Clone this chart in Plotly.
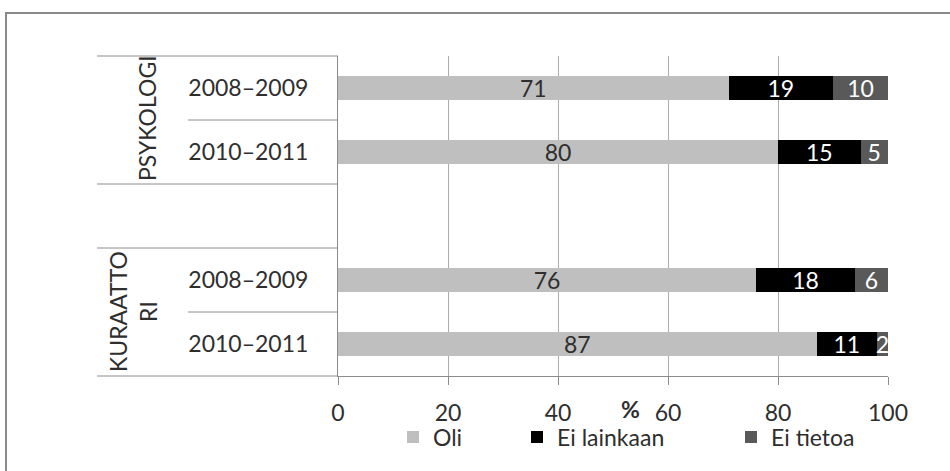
import plotly.graph_objects as go

# ---- data ----
groups = ["PSYKOLOGI", "PSYKOLOGI", "KURAATTORI", "KURAATTORI"]
group_labels = {"PSYKOLOGI": "PSYKOLOGI", "KURAATTORI": "KURAATTO<br>RI"}
periods = ["2008–2009", "2010–2011", "2008–2009", "2010–2011"]
series_names = ["Oli", "Ei lainkaan", "Ei tietoa"]
oli = [71, 80, 76, 87]
ei_lainkaan = [19, 15, 18, 11]
ei_tietoa = [10, 5, 6, 2]
x_ticks = [0, 20, 40, 60, 80, 100]
x_title = "%"

# ---- layout geometry ----
W, H = 950, 471
ML, MR, MT, MB = 338, 62, 56, 95
PW, PH = W - ML - MR, H - MT - MB


def px_x(px):
    return (px - ML) / PW


def px_y(py):
    return (H - MB - py) / PH


FONT = "Lato, 'Open Sans', sans-serif"
TXT = "#2e2e2e"
LINE = "#8c8c8c"
GRID = "#ababab"

keys = [f"{g} {p}" for g, p in zip(groups, periods)]
spacer = " "
cat_order = keys[:2] + [spacer] + keys[2:]
n_cat = len(cat_order)
tick_text = periods[:2] + [""] + periods[2:]

colors = ["#bfbfbf", "#000000", "#595959"]
text_colors = ["#2e2e2e", "#ffffff", "#ffffff"]
values = [oli, ei_lainkaan, ei_tietoa]
legend_ids = ["legend", "legend2", "legend3"]

fig = go.Figure()
for name, vals, col, tcol, lid in zip(series_names, values, colors, text_colors, legend_ids):
    fig.add_trace(go.Bar(
        y=keys, x=vals, name=name, orientation="h",
        marker=dict(color=col, line=dict(width=0)),
        width=0.39,
        text=[str(v) for v in vals], textposition="inside", textangle=0,
        insidetextanchor="middle", constraintext="none",
        textfont=dict(family=FONT, size=23, color=tcol),
        legend=lid, hoverinfo="x+name",
    ))


def cat_paper(boundary):
    # boundary in category units (-0.5 .. n_cat-0.5), reversed axis
    return 1 - (boundary + 0.5) / n_cat


shapes = []
# outer chart border
shapes.append(dict(type="rect", xref="paper", yref="paper",
                   x0=px_x(6), x1=1.3, y0=-0.6, y1=px_y(13),
                   line=dict(color="#8a8a8a", width=2), fillcolor="rgba(0,0,0,0)", layer="below"))
# label table lines
outer_left = px_x(97)
inner_left = px_x(188)
boundaries = [(-0.5, outer_left), (0.5, inner_left), (1.5, outer_left),
              (2.5, outer_left), (3.5, inner_left), (4.5, outer_left)]
for b, x0 in boundaries:
    shapes.append(dict(type="line", xref="paper", yref="paper",
                       x0=x0, x1=0, y0=cat_paper(b), y1=cat_paper(b),
                       line=dict(color=LINE, width=1)))

annotations = []
# group labels
annotations.append(dict(xref="paper", yref="paper", x=px_x(147), y=cat_paper(0.5) + 2 / PH,
                        xanchor="center", yanchor="middle",
                        text=group_labels["PSYKOLOGI"], textangle=-90, showarrow=False,
                        font=dict(family=FONT, size=23, color=TXT)))
annotations.append(dict(xref="paper", yref="paper", x=px_x(133), y=cat_paper(3.5),
                        xanchor="center", yanchor="middle",
                        text=group_labels["KURAATTORI"], textangle=-90, showarrow=False,
                        font=dict(family=FONT, size=23, color=TXT)))
# axis title
annotations.append(dict(xref="paper", yref="paper", x=px_x(630), y=px_y(409),
                        xanchor="center", yanchor="middle",
                        text=f"<b>{x_title}</b>", showarrow=False,
                        font=dict(family=FONT, size=23, color=TXT)))

leg_common = dict(orientation="h", xanchor="left", yanchor="middle", y=px_y(437),
                  font=dict(family=FONT, size=23, color=TXT), bgcolor="rgba(0,0,0,0)",
                  borderwidth=0, itemwidth=30)

fig.update_layout(
    width=W, height=H,
    margin=dict(l=ML, r=MR, t=MT, b=MB, pad=0),
    paper_bgcolor="white", plot_bgcolor="white",
    barmode="stack",
    showlegend=True,
    legend=dict(leg_common, x=px_x(393)),
    legend2=dict(leg_common, x=px_x(517)),
    legend3=dict(leg_common, x=px_x(731)),
    xaxis=dict(range=[0, 100], tickvals=x_ticks, ticktext=[str(t) for t in x_ticks],
               showgrid=True, gridcolor=GRID, gridwidth=1, zeroline=False,
               showline=True, linecolor=LINE, linewidth=1,
               ticks="outside", ticklen=8, tickcolor=LINE, ticklabelstandoff=8,
               tickfont=dict(family=FONT, size=23, color=TXT), fixedrange=True),
    yaxis=dict(type="category", categoryorder="array", categoryarray=cat_order,
               range=[n_cat - 0.5, -0.5], tickvals=cat_order, ticktext=tick_text,
               showgrid=False, zeroline=False, showline=True, linecolor=LINE, linewidth=1,
               ticks="", ticklabelstandoff=24,
               tickfont=dict(family=FONT, size=23, color=TXT), fixedrange=True),
    shapes=shapes, annotations=annotations,
    font=dict(family=FONT, color=TXT),
)

fig.write_html("out.html")
